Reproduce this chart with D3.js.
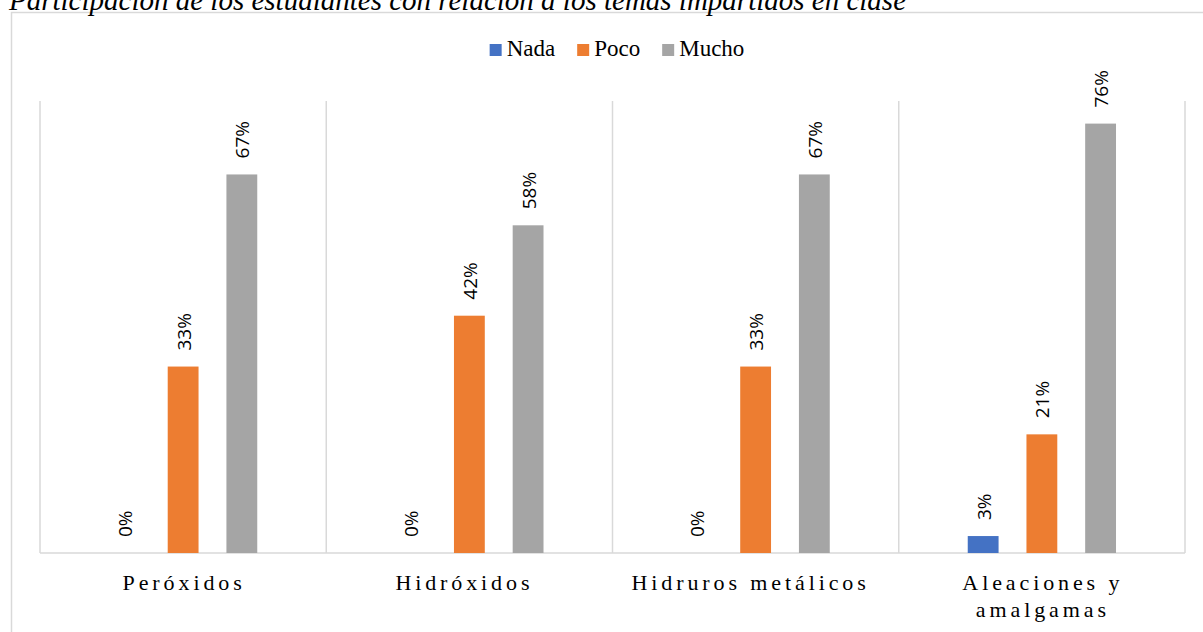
<!DOCTYPE html>
<html>
<head>
<meta charset="utf-8">
<script src="https://cdn.jsdelivr.net/npm/d3@7"></script>
<style>
  html, body { margin: 0; padding: 0; background: #fff; }
  svg { display: block; }
</style>
</head>
<body>
<svg id="chart" width="1203" height="632"></svg>
<script>
// Topics and response levels
const categories = ["Peróxidos", "Hidróxidos", "Hidruros metálicos", "Aleaciones y amalgamas"];
const categoryLines = [["Peróxidos"], ["Hidróxidos"], ["Hidruros metálicos"], ["Aleaciones y", "amalgamas"]];
const seriesNames = ["Nada", "Poco", "Mucho"];
const nada  = [0.00, 0.00, 0.00, 0.03];
const poco  = [0.33, 0.42, 0.33, 0.21];
const mucho = [0.67, 0.58, 0.67, 0.76];
const colors = ["#4472C4", "#ED7D31", "#A5A5A5"];
const title = "Participación de los estudiantes con relación a los temas impartidos en clase";

const seriesValues = [nada, poco, mucho];
const rows = categories.map((c, i) => ({
  category: c,
  values: seriesNames.map((s, j) => ({ series: s, value: seriesValues[j][i] }))
}));

const svg = d3.select("#chart");
const W = 1203, H = 632;
const margin = { left: 40, right: 18, top: 101, bottom: 79 };
const plotW = W - margin.left - margin.right;
const plotH = H - margin.top - margin.bottom;
const serif = "'Liberation Serif', 'Times New Roman', serif";

// Frame of the chart area
svg.append("path")
  .attr("d", `M11.5,${H} V12.5 H${W}`)
  .attr("fill", "none").attr("stroke", "#D9D9D9").attr("stroke-width", 1.5);

// Title (italic, sitting on the frame)
svg.append("text")
  .attr("x", 9).attr("y", 10)
  .attr("font-family", serif)
  .attr("font-style", "italic")
  .attr("font-size", 29)
  .attr("fill", "#000")
  .text(title);

const g = svg.append("g").attr("transform", `translate(${margin.left},${margin.top})`);

const x0 = d3.scaleBand().domain(categories).range([0, plotW]).paddingInner(0).paddingOuter(0);
const x1 = d3.scaleBand().domain(seriesNames).range([0, x0.bandwidth()]).paddingInner(0.475).paddingOuter(1.175);
const y = d3.scaleLinear().domain([0, 0.8]).range([plotH, 0]);

// Category separators
const seps = categories.map(c => x0(c)).concat([plotW]);
g.selectAll("line.sep").data(seps).join("line")
  .attr("class", "sep")
  .attr("x1", d => d).attr("x2", d => d)
  .attr("y1", 0).attr("y2", plotH)
  .attr("stroke", "#D9D9D9").attr("stroke-width", 1.5);

// Baseline
g.append("line")
  .attr("x1", 0).attr("x2", plotW)
  .attr("y1", plotH).attr("y2", plotH)
  .attr("stroke", "#D9D9D9").attr("stroke-width", 1.5);

// Bars
const groups = g.selectAll("g.cat").data(rows).join("g")
  .attr("class", "cat")
  .attr("transform", d => `translate(${x0(d.category)},0)`);

groups.selectAll("rect").data(d => d.values).join("rect")
  .attr("x", d => x1(d.series))
  .attr("width", x1.bandwidth())
  .attr("y", d => y(d.value))
  .attr("height", d => plotH - y(d.value))
  .attr("fill", (d, i) => colors[i]);

// Value labels, rotated
groups.selectAll("text.val").data(d => d.values).join("text")
  .attr("class", "val")
  .attr("transform", d => `translate(${x1(d.series) + x1.bandwidth() / 2 + 7.5},${y(d.value) - 16}) rotate(-90)`)
  .attr("font-family", "'Open Sans', 'Noto Sans', sans-serif")
  .attr("font-size", 19)
  .attr("fill", "#000")
  .text(d => d3.format(".0%")(d.value));

// Category labels (letter-spaced, wrapping); single-line labels sit slightly left of centre
const labelX = (d, i) => x0(d) + x0.bandwidth() / 2 + (i === 1 || i === 2 ? -5 : 1);
const xlab = svg.append("g").attr("transform", `translate(${margin.left},${margin.top + plotH})`);
xlab.selectAll("text").data(categories).join("text")
  .attr("y", 37)
  .attr("text-anchor", "middle")
  .attr("font-family", serif)
  .attr("font-size", 22)
  .attr("letter-spacing", 3.9)
  .attr("fill", "#000")
  .each(function(d, i) {
    const t = d3.select(this);
    categoryLines[i].forEach((line, k) => {
      t.append("tspan").attr("x", labelX(d, i)).attr("dy", k === 0 ? 0 : 27).text(line);
    });
  });

// Legend
const legend = svg.append("g").attr("class", "legend");
const legendItems = legend.selectAll("g").data(seriesNames).join("g");
legendItems.append("rect").attr("width", 12).attr("height", 12).attr("y", 44).attr("fill", (d, i) => colors[i]);
legendItems.append("text")
  .attr("x", 17).attr("y", 56)
  .attr("font-family", serif)
  .attr("font-size", 23)
  .attr("fill", "#000")
  .text(d => d);
let lx = 0;
legendItems.each(function() {
  const w = this.getBBox().width;
  d3.select(this).attr("transform", `translate(${lx},0)`);
  lx += w + 22;
});
const totalW = lx - 22;
legend.attr("transform", `translate(${617 - totalW / 2},0)`);
</script>
</body>
</html>
